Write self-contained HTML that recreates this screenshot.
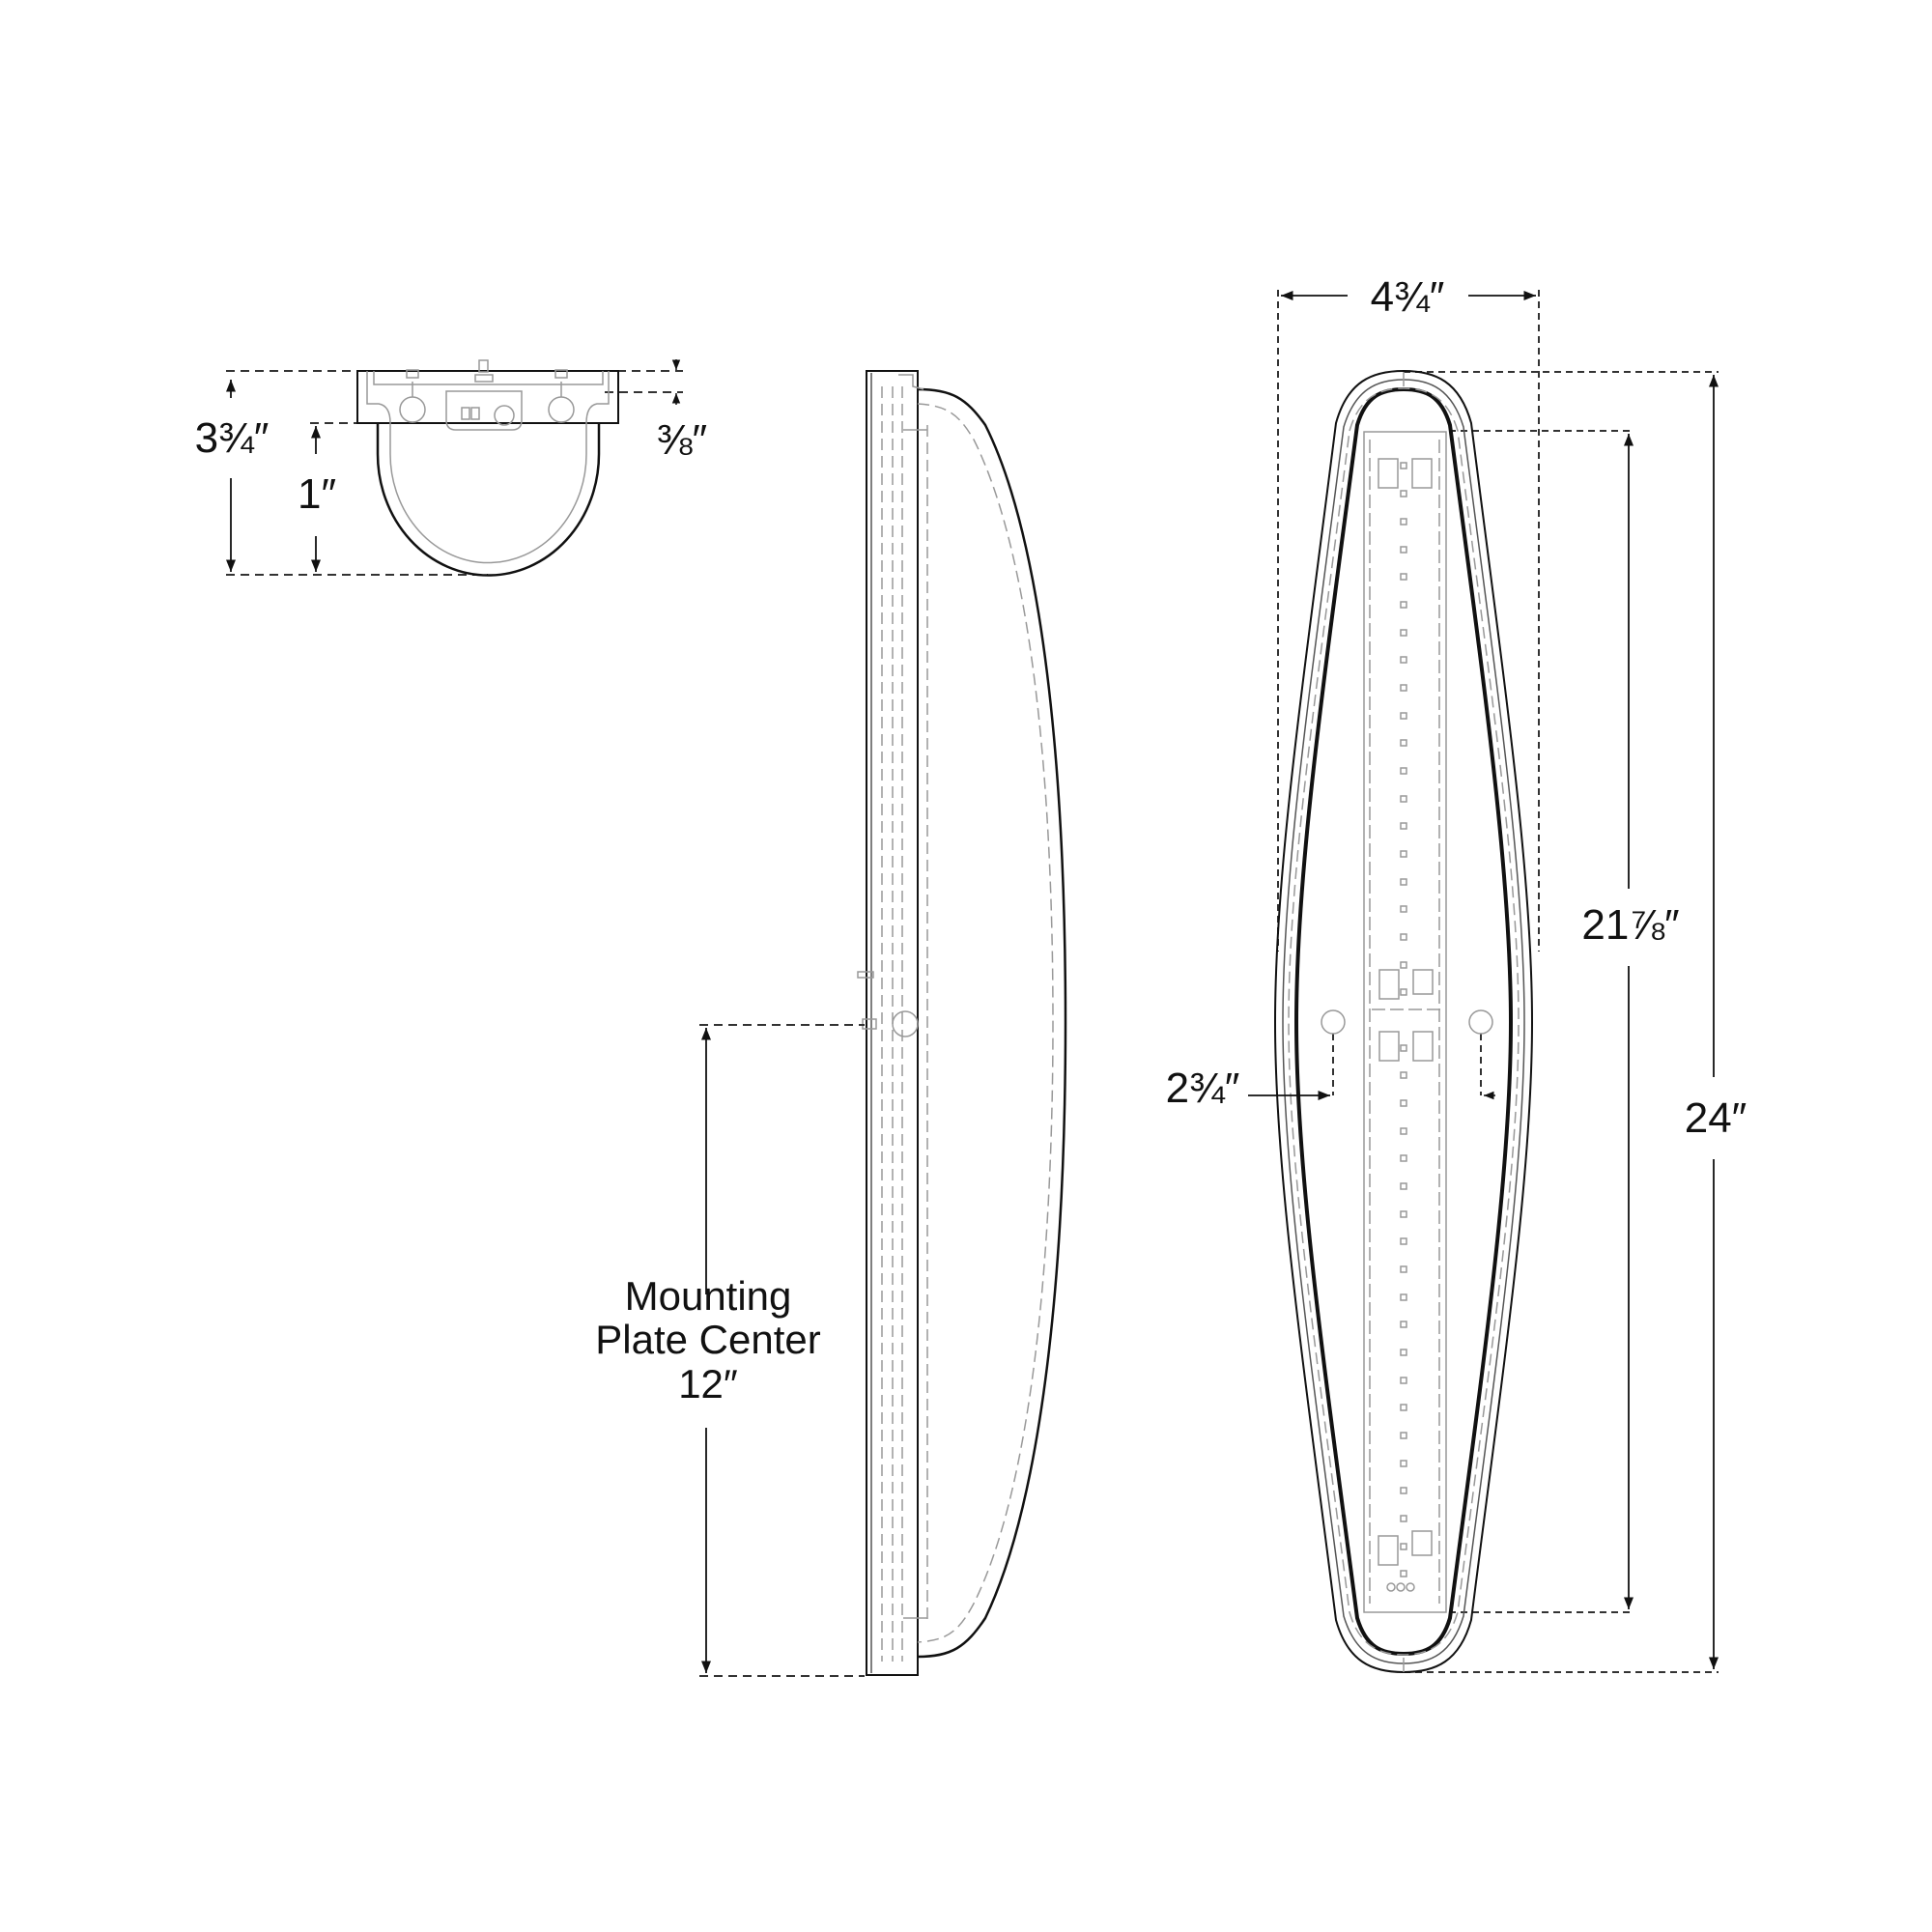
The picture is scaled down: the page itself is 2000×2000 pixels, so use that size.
<!DOCTYPE html>
<html><head><meta charset="utf-8"><style>
html,body{margin:0;padding:0;background:#fff;}
svg{display:block}
text{font-family:"Liberation Sans","DejaVu Sans",sans-serif;fill:#111;}
</style></head><body>
<svg width="2000" height="2000" viewBox="0 0 2000 2000" xmlns="http://www.w3.org/2000/svg">
<defs>
<marker id="ah" viewBox="0 0 10 10" refX="10" refY="5" markerWidth="7" markerHeight="7" orient="auto-start-reverse"><path d="M0,1 L10,5 L0,9 z" fill="#111"/></marker>
</defs>
<g fill="none" stroke="#111" stroke-width="2">
<!-- ================= TOP VIEW ================= -->
<g stroke-dasharray="9,6" stroke="#333">
<line x1="234" y1="384" x2="707" y2="384"/>
<line x1="626" y1="406" x2="707" y2="406"/>
<line x1="321" y1="438" x2="370" y2="438"/>
<line x1="234" y1="595" x2="505" y2="595"/>
</g>
<rect x="370" y="384" width="270" height="54"/>
<path d="M391,438 L391,470 A114,125 0 0 0 620,470 L620,438" stroke-width="2.5"/>
<g stroke="#999" stroke-width="1.5">
<path d="M404,438 L404,470 A101,112 0 0 0 607,470 L607,438"/>
<path d="M380,384 L380,418 L392,418 Q404,420 404,438"/>
<path d="M630,384 L630,418 L618,418 Q607,420 607,438"/>
<path d="M387,384 L387,398 L624,398 L624,384"/>
<circle cx="427" cy="424" r="13"/><circle cx="581" cy="424" r="13"/>
<path d="M427,411 L427,395 M581,411 L581,395"/>
<rect x="421" y="383" width="12" height="8"/><rect x="575" y="383" width="12" height="8"/>
<rect x="496" y="373" width="9" height="12"/><rect x="492" y="388" width="18" height="7"/>
<path d="M462,405 L540,405 L540,435 Q540,445 530,445 L472,445 Q462,445 462,435 Z"/>
<circle cx="522" cy="430" r="10"/>
<rect x="478" y="422" width="8" height="12"/><rect x="488" y="422" width="8" height="12"/>
</g>
<line x1="239" y1="412" x2="239" y2="393" marker-end="url(#ah)" stroke-width="1.8"/>
<line x1="239" y1="495" x2="239" y2="592" marker-end="url(#ah)" stroke-width="1.8"/>
<line x1="327" y1="470" x2="327" y2="441" marker-end="url(#ah)" stroke-width="1.8"/>
<line x1="327" y1="555" x2="327" y2="592" marker-end="url(#ah)" stroke-width="1.8"/>
<line x1="700" y1="372" x2="700" y2="383" marker-end="url(#ah)" stroke-width="1.5"/>
<line x1="700" y1="419" x2="700" y2="407" marker-end="url(#ah)" stroke-width="1.5"/>

<!-- ================= SIDE VIEW ================= -->
<rect x="897" y="384" width="53" height="1350"/>
<line x1="902" y1="386" x2="902" y2="1732" stroke="#555" stroke-width="1.5"/>
<path d="M950,403 C985,403 1000,412 1020,440 C1080,560 1103,800 1103,1058 C1103,1310 1080,1550 1020,1675 C1000,1705 985,1715 950,1715" stroke-width="2.5"/>
<g stroke="#999" stroke-width="1.5" stroke-dasharray="12,6">
<path d="M950,418 C980,420 992,428 1008,455 C1068,575 1090,810 1090,1058 C1090,1300 1068,1540 1008,1660 C992,1690 980,1698 950,1700"/>
<line x1="913" y1="400" x2="913" y2="1720"/>
<line x1="924" y1="400" x2="924" y2="1720"/>
<line x1="934" y1="400" x2="934" y2="1720"/>
<line x1="960" y1="440" x2="960" y2="1680"/>
</g>
<g stroke="#999" stroke-width="1.5">
<path d="M930,388 L945,388 L945,400 L956,403"/>
<path d="M935,445 L960,445"/><path d="M935,1675 L960,1675"/>
<circle cx="937" cy="1060" r="13"/>
<rect x="893" y="1055" width="14" height="10"/>
<rect x="888" y="1006" width="16" height="6"/>
</g>
<line x1="724" y1="1061" x2="895" y2="1061" stroke-dasharray="9,6" stroke="#333"/>
<line x1="724" y1="1735" x2="895" y2="1735" stroke-dasharray="9,6" stroke="#333"/>
<line x1="731" y1="1340" x2="731" y2="1064" marker-end="url(#ah)" stroke-width="1.8"/>
<line x1="731" y1="1478" x2="731" y2="1732" marker-end="url(#ah)" stroke-width="1.8"/>

<!-- ================= FRONT VIEW ================= -->
<g stroke-dasharray="7,5" stroke="#333">
<line x1="1323" y1="300" x2="1323" y2="985"/>
<line x1="1593" y1="300" x2="1593" y2="985"/>
<line x1="1453" y1="385" x2="1779" y2="385"/>
<line x1="1453" y1="1731" x2="1779" y2="1731"/>
<line x1="1500" y1="446" x2="1692" y2="446"/>
<line x1="1500" y1="1669" x2="1692" y2="1669"/>
<line x1="1380" y1="1070" x2="1380" y2="1134"/>
<line x1="1533" y1="1070" x2="1533" y2="1134"/>
</g>
<path d="M1383,438 C1395,395 1420,384 1453,384 C1486,384 1511,395 1523,438 C1556,700 1586,900 1586,1058 C1586,1216 1556,1416 1523,1677 C1511,1720 1486,1731 1453,1731 C1420,1731 1395,1720 1383,1677 C1350,1416 1320,1216 1320,1058 C1320,900 1350,700 1383,438 Z" stroke-width="2"/>
<path d="M1391,442 C1403,403 1425,393 1453,393 C1481,393 1503,403 1515,442 C1548,700 1578,900 1578,1058 C1578,1216 1548,1416 1515,1673 C1503,1712 1481,1722 1453,1722 C1425,1722 1403,1712 1391,1673 C1358,1416 1328,1216 1328,1058 C1328,900 1358,700 1391,442 Z" stroke="#555" stroke-width="1.5"/>
<path d="M1405,440 C1414,410 1430,403 1453,403 C1476,403 1492,410 1501,440 C1535,700 1564,900 1564,1058 C1564,1216 1535,1416 1501,1675 C1492,1705 1476,1712 1453,1712 C1430,1712 1414,1705 1405,1675 C1371,1416 1342,1216 1342,1058 C1342,900 1371,700 1405,440 Z" stroke-width="4"/>
<path d="M1397,446 C1407,412 1427,402 1453,402 C1479,402 1499,412 1509,446 C1541,700 1572,900 1572,1058 C1572,1216 1541,1416 1509,1669 C1499,1703 1479,1713 1453,1713 C1427,1713 1407,1703 1397,1669 C1365,1416 1334,1216 1334,1058 C1334,900 1365,700 1397,446 Z" stroke="#999" stroke-width="1.5" stroke-dasharray="12,6"/>
<g stroke="#999" stroke-width="1.5">
<rect x="1412" y="447" width="85" height="1222"/>
<line x1="1418" y1="455" x2="1418" y2="1660" stroke-dasharray="14,5"/>
<line x1="1490" y1="455" x2="1490" y2="1660" stroke-dasharray="14,5"/>
<rect x="1427" y="475" width="20" height="30"/><rect x="1462" y="475" width="20" height="30"/>
<rect x="1428" y="1004" width="20" height="30"/><rect x="1463" y="1004" width="20" height="25"/>
<rect x="1428" y="1068" width="20" height="30"/><rect x="1463" y="1068" width="20" height="30"/>
<line x1="1420" y1="1045" x2="1495" y2="1045" stroke-dasharray="14,5"/>
<rect x="1427" y="1590" width="20" height="30"/><rect x="1462" y="1585" width="20" height="25"/>
<circle cx="1440" cy="1643" r="4"/><circle cx="1450" cy="1643" r="4"/><circle cx="1460" cy="1643" r="4"/>
<ellipse cx="1380" cy="1058" rx="12" ry="12"/><ellipse cx="1533" cy="1058" rx="12" ry="12"/>
<line x1="1453" y1="385" x2="1453" y2="400"/><line x1="1453" y1="1716" x2="1453" y2="1731"/>
</g>
<g stroke="#999" stroke-width="1.5" transform="translate(-4,0)">
<rect x="1454" y="479" width="6" height="6"/><rect x="1454" y="508" width="6" height="6"/><rect x="1454" y="537" width="6" height="6"/><rect x="1454" y="566" width="6" height="6"/><rect x="1454" y="594" width="6" height="6"/><rect x="1454" y="623" width="6" height="6"/><rect x="1454" y="652" width="6" height="6"/><rect x="1454" y="680" width="6" height="6"/><rect x="1454" y="709" width="6" height="6"/><rect x="1454" y="738" width="6" height="6"/><rect x="1454" y="766" width="6" height="6"/><rect x="1454" y="795" width="6" height="6"/><rect x="1454" y="824" width="6" height="6"/><rect x="1454" y="852" width="6" height="6"/><rect x="1454" y="881" width="6" height="6"/><rect x="1454" y="910" width="6" height="6"/><rect x="1454" y="938" width="6" height="6"/><rect x="1454" y="967" width="6" height="6"/><rect x="1454" y="996" width="6" height="6"/><rect x="1454" y="1024" width="6" height="6"/><rect x="1454" y="1082" width="6" height="6"/><rect x="1454" y="1110" width="6" height="6"/><rect x="1454" y="1139" width="6" height="6"/><rect x="1454" y="1168" width="6" height="6"/><rect x="1454" y="1196" width="6" height="6"/><rect x="1454" y="1225" width="6" height="6"/><rect x="1454" y="1254" width="6" height="6"/><rect x="1454" y="1282" width="6" height="6"/><rect x="1454" y="1311" width="6" height="6"/><rect x="1454" y="1340" width="6" height="6"/><rect x="1454" y="1368" width="6" height="6"/><rect x="1454" y="1397" width="6" height="6"/><rect x="1454" y="1426" width="6" height="6"/><rect x="1454" y="1454" width="6" height="6"/><rect x="1454" y="1483" width="6" height="6"/><rect x="1454" y="1512" width="6" height="6"/><rect x="1454" y="1540" width="6" height="6"/><rect x="1454" y="1569" width="6" height="6"/><rect x="1454" y="1598" width="6" height="6"/><rect x="1454" y="1626" width="6" height="6"/>
</g>
<!-- dimension arrows -->
<line x1="1395" y1="306" x2="1326" y2="306" marker-end="url(#ah)" stroke-width="1.8"/>
<line x1="1520" y1="306" x2="1590" y2="306" marker-end="url(#ah)" stroke-width="1.8"/>
<line x1="1686" y1="920" x2="1686" y2="449" marker-end="url(#ah)" stroke-width="1.8"/>
<line x1="1686" y1="1000" x2="1686" y2="1666" marker-end="url(#ah)" stroke-width="1.8"/>
<line x1="1774" y1="1115" x2="1774" y2="388" marker-end="url(#ah)" stroke-width="1.8"/>
<line x1="1774" y1="1200" x2="1774" y2="1728" marker-end="url(#ah)" stroke-width="1.8"/>
<line x1="1292" y1="1134" x2="1377" y2="1134" marker-end="url(#ah)" stroke-width="1.8"/>
<line x1="1548" y1="1134" x2="1536" y2="1134" marker-end="url(#ah)" stroke-width="1.5"/>
</g>
<!-- labels -->
<text x="240" y="468" font-size="44" text-anchor="middle">3¾″</text>
<text x="328" y="526" font-size="44" text-anchor="middle">1″</text>
<text x="706" y="470" font-size="44" text-anchor="middle">⅜″</text>
<text x="733" y="1356" font-size="42" text-anchor="middle">Mounting</text>
<text x="733" y="1401" font-size="42" text-anchor="middle">Plate Center</text>
<text x="733" y="1447" font-size="42" text-anchor="middle">12″</text>
<text x="1457" y="322" font-size="44" text-anchor="middle">4¾″</text>
<text x="1688" y="972" font-size="44" text-anchor="middle">21⅞″</text>
<text x="1776" y="1172" font-size="44" text-anchor="middle">24″</text>
<text x="1245" y="1141" font-size="44" text-anchor="middle">2¾″</text>
</svg>
</body></html>
